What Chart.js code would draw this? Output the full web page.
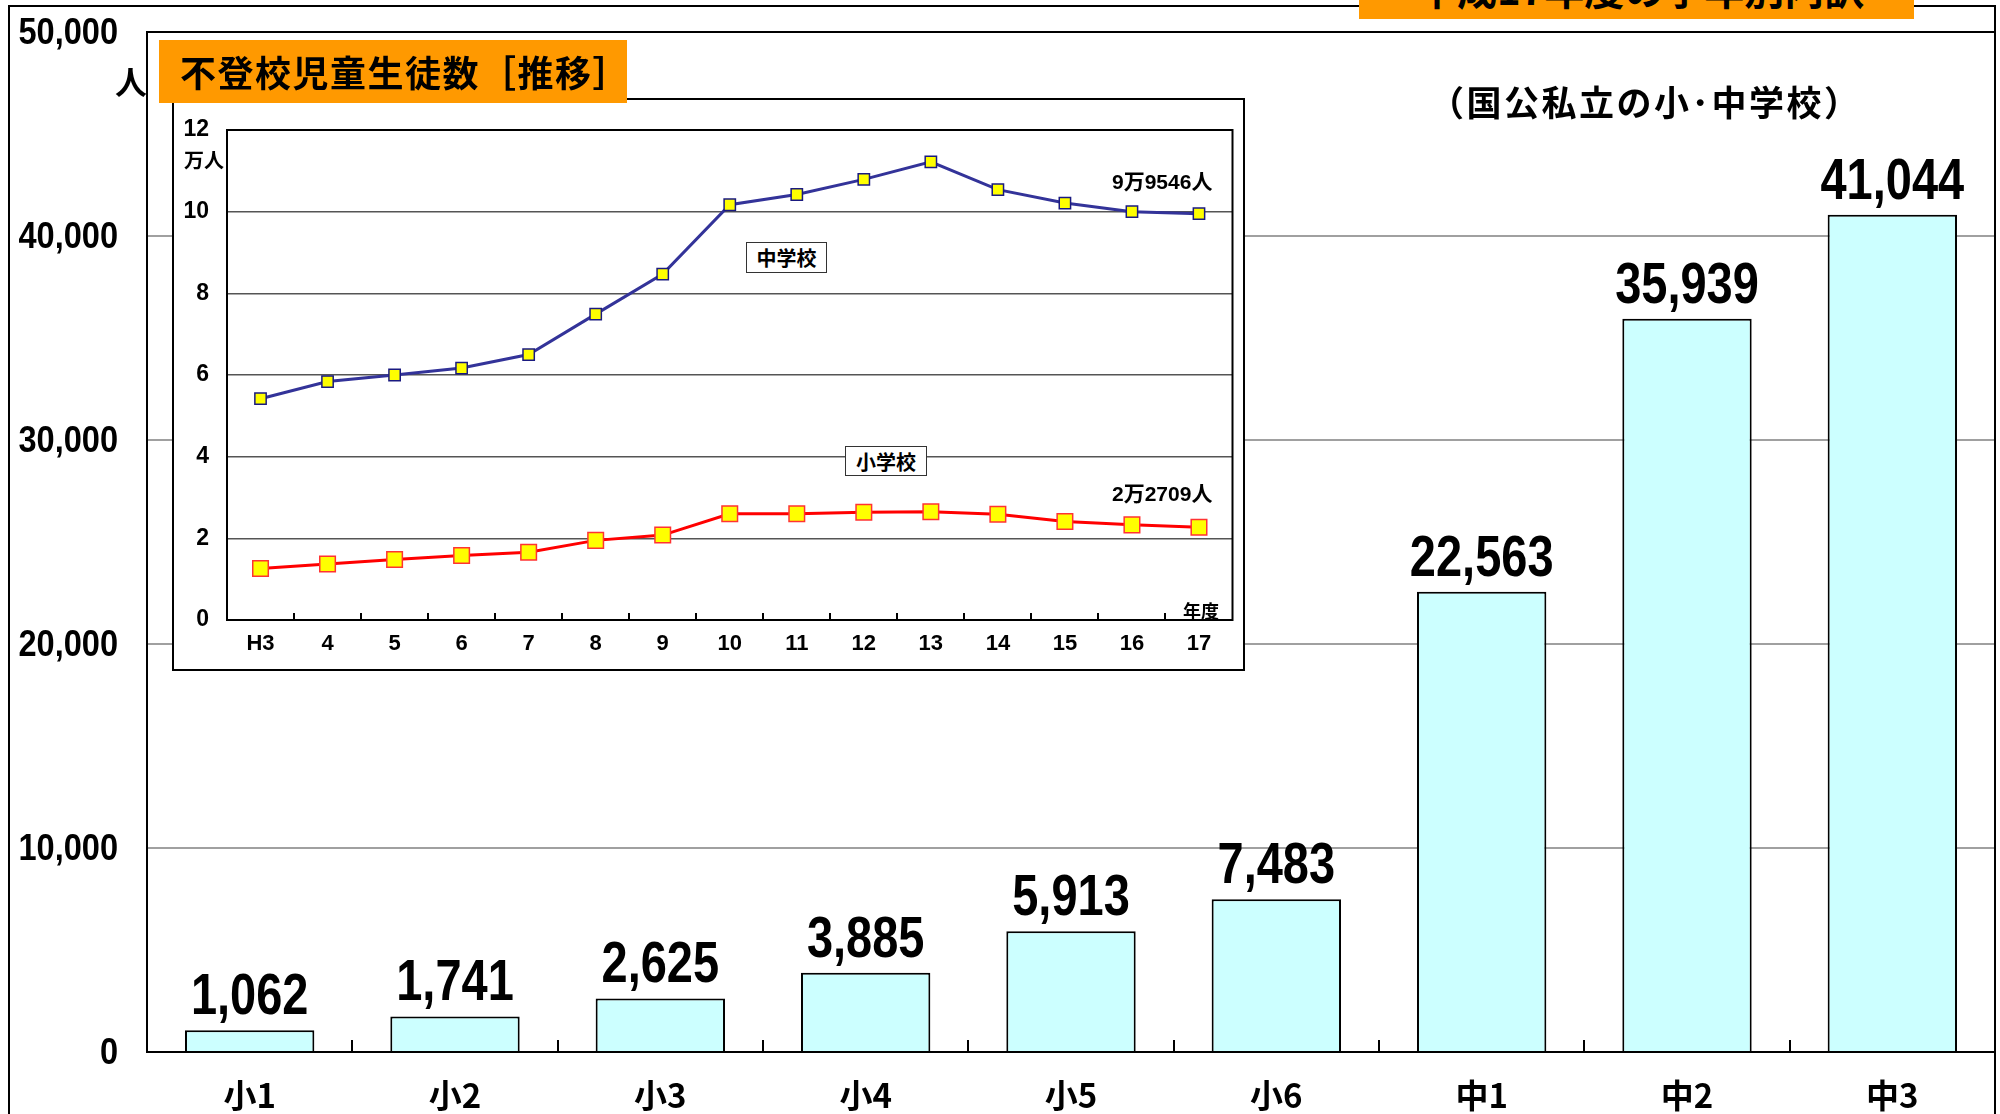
<!DOCTYPE html>
<html>
<head>
<meta charset="utf-8">
<script src="https://cdn.jsdelivr.net/npm/chart.js@4"></script>
<style>
body { margin: 0; background: #fff; width: 2000px; height: 1114px; overflow: hidden; position: relative; }
#main { position: absolute; left: 0; top: 0; }
#inset { position: absolute; left: 172px; top: 98px; background: #fff; }
.lbl { position: absolute; font-family: "Noto Sans CJK JP", sans-serif; font-weight: 700; color: #000; white-space: nowrap; }
.orange { position: absolute; background: #FF9900; }
.tag { position: absolute; background: #fff; border: 1.5px solid #333; box-sizing: border-box; display: flex; align-items: center; justify-content: center;
       font-family: "Noto Sans CJK JP", sans-serif; font-weight: 700; font-size: 20px; }
.num { font-family: "Liberation Sans", "Noto Sans CJK JP", sans-serif; font-size: 21px; line-height: 22px; }
</style>
</head>
<body>
<canvas id="main" width="2000" height="1114"></canvas>

<div class="orange" style="left:1359px; top:0; width:555px; height:19px; overflow:hidden;">
  <div class="lbl" style="left:58px; top:-32px; font-size:40px; line-height:40px;">平成17年度の学年別内訳</div>
</div>
<div class="lbl" style="left:1429px; top:81px; font-size:35px; line-height:40px; letter-spacing:2.5px;">（国公私立の小･中学校）</div>
<div class="lbl" style="left:115px; top:60px; font-size:32px; line-height:40px;">人</div>

<canvas id="inset" width="1073" height="573"></canvas>

<div class="orange" style="left:159px; top:40px; width:468px; height:63px;">
  <div class="lbl" style="left:21px; top:9px; font-size:36px; line-height:44px; letter-spacing:1.5px;">不登校児童生徒数［推移］</div>
</div>
<div class="lbl" style="left:184px; top:148px; font-size:20px; line-height:24px;">万人</div>
<div class="tag" style="left:746px; top:242px; width:81px; height:31px;">中学校</div>
<div class="tag" style="left:845px; top:446px; width:82px; height:30px;">小学校</div>
<div class="lbl num" style="left:1112px; top:171px;">9万9546人</div>
<div class="lbl num" style="left:1112px; top:483px;">2万2709人</div>
<div class="lbl" style="left:1183px; top:599px; font-size:18px; line-height:22px;">年度</div>

<script>
// 学年別 (main bars)
const grades = ["小1", "小2", "小3", "小4", "小5", "小6", "中1", "中2", "中3"];
const gradeCounts = [1062, 1741, 2625, 3885, 5913, 7483, 22563, 35939, 41044];
const mainTicks = [0, 10000, 20000, 30000, 40000, 50000];

// 推移 (inset lines), 万人
const years = ["H3", "4", "5", "6", "7", "8", "9", "10", "11", "12", "13", "14", "15", "16", "17"];
const juniorHigh = [5.42, 5.84, 6.00, 6.17, 6.50, 7.49, 8.47, 10.17, 10.42, 10.79, 11.22, 10.54, 10.21, 10.00, 9.95];
const elementary = [1.26, 1.37, 1.48, 1.58, 1.66, 1.95, 2.08, 2.60, 2.60, 2.64, 2.65, 2.59, 2.41, 2.33, 2.27];
const insetTicks = [0, 2, 4, 6, 8, 10, 12];

const SANS = '"Liberation Sans", Arial, "Noto Sans CJK JP", sans-serif';

// narrow-looking bold text: squeeze horizontally
function squeezed(ctx, text, x, y, size, sx, align, baseline) {
    ctx.save();
    ctx.translate(x, y);
    ctx.scale(sx, 1);
    ctx.font = "bold " + size + "px " + SANS;
    ctx.fillStyle = "#000";
    ctx.textAlign = align;
    ctx.textBaseline = baseline;
    ctx.fillText(text, 0, 0);
    ctx.restore();
}

// ticks pointing up into the plot, at the category boundaries
function innerTicks(chart, len) {
    const x = chart.scales.x;
    const area = chart.chartArea;
    const ctx = chart.ctx;
    ctx.save();
    ctx.strokeStyle = "#000";
    ctx.lineWidth = 2;
    for (let i = 1; i < chart.data.labels.length; i++) {
        const px = Math.round((x.getPixelForValue(i - 1) + x.getPixelForValue(i)) / 2);
        ctx.beginPath();
        ctx.moveTo(px, area.bottom - len);
        ctx.lineTo(px, area.bottom);
        ctx.stroke();
    }
    ctx.restore();
}

const mainDecor = {
    id: "mainDecor",
    afterDatasetsDraw(chart) {
        const ctx = chart.ctx;
        const a = chart.chartArea;
        ctx.save();
        ctx.strokeStyle = "#000";
        ctx.lineWidth = 2;
        ctx.strokeRect(a.left, a.top, a.right - a.left, a.bottom - a.top);
        // outer frame
        ctx.beginPath();
        ctx.moveTo(9, 1114);
        ctx.lineTo(9, 6);
        ctx.lineTo(1995, 6);
        ctx.lineTo(1995, 1114);
        ctx.stroke();
        ctx.restore();
        innerTicks(chart, 12);

        // y tick labels
        const ys = chart.scales.y;
        mainTicks.forEach(v => {
            squeezed(ctx, v.toLocaleString("en-US"), 118, ys.getPixelForValue(v) + 2, 37, 0.88, "right", "middle");
        });

        // value labels over bars
        const meta = chart.getDatasetMeta(0);
        meta.data.forEach((bar, i) => {
            squeezed(ctx, gradeCounts[i].toLocaleString("en-US"), bar.x, bar.y - 16, 58, 0.81, "center", "alphabetic");
        });
    }
};

const insetDecor = {
    id: "insetDecor",
    beforeDraw(chart) {
        const ctx = chart.ctx;
        ctx.save();
        ctx.fillStyle = "#fff";
        ctx.fillRect(0, 0, chart.width, chart.height);
        ctx.restore();
    },
    beforeDatasetsDraw(chart) {
        const ctx = chart.ctx;
        const a = chart.chartArea;
        ctx.save();
        ctx.strokeStyle = "#000";
        ctx.lineWidth = 2;
        ctx.strokeRect(a.left, a.top, a.right - a.left, a.bottom - a.top);
        ctx.strokeRect(1, 1, chart.width - 2, chart.height - 2);
        ctx.restore();
        innerTicks(chart, 7);
    }
};

new Chart(document.getElementById("main"), {
    type: "bar",
    data: {
        labels: grades,
        datasets: [{
            data: gradeCounts,
            backgroundColor: "#CCFFFF",
            borderColor: "#000",
            borderWidth: 2,
            categoryPercentage: 1,
            barPercentage: 0.63,
        }]
    },
    options: {
        responsive: false,
        animation: false,
        layout: { padding: { top: 32, right: 5, left: 0, bottom: 0 } },
        plugins: { legend: { display: false }, tooltip: { enabled: false } },
        scales: {
            x: {
                grid: { display: false },
                border: { display: false },
                ticks: { color: "#000", padding: 16, font: { family: '"Noto Sans CJK JP", sans-serif', size: 33, weight: "bold" } },
                afterFit: (s) => { s.height = 62; },
            },
            y: {
                min: 0,
                max: 50000,
                afterBuildTicks: (s) => { s.ticks = mainTicks.map(v => ({ value: v })); },
                grid: { color: "#a0a0a0", lineWidth: 2, drawTicks: false },
                border: { display: false },
                ticks: { display: false },
                afterFit: (s) => { s.width = 147; },
            }
        }
    },
    plugins: [mainDecor]
});

new Chart(document.getElementById("inset"), {
    type: "line",
    data: {
        labels: years,
        datasets: [{
            label: "小学校",
            data: elementary,
            borderColor: "#FF0000",
            borderWidth: 3,
            pointStyle: "rect",
            pointRadius: 11,
            pointBackgroundColor: "#FFFF00",
            pointBorderColor: "#FF3333",
            pointBorderWidth: 1.5,
            tension: 0,
        }, {
            label: "中学校",
            data: juniorHigh,
            borderColor: "#333399",
            borderWidth: 3,
            pointStyle: "rect",
            pointRadius: 8,
            pointBackgroundColor: "#FFFF00",
            pointBorderColor: "#1a1a80",
            pointBorderWidth: 1.5,
            tension: 0,
        }]
    },
    options: {
        responsive: false,
        animation: false,
        layout: { padding: { top: 32, right: 12, left: 0, bottom: 0 } },
        plugins: { legend: { display: false }, tooltip: { enabled: false } },
        scales: {
            x: {
                offset: true,
                grid: { display: false },
                border: { display: false },
                ticks: { color: "#000", padding: 3, font: { family: SANS, size: 22, weight: "bold" } },
                afterFit: (s) => { s.height = 51; },
            },
            y: {
                min: 0,
                max: 12,
                afterBuildTicks: (s) => { s.ticks = insetTicks.map(v => ({ value: v })); },
                grid: { color: "#555", lineWidth: 1.5, drawTicks: false },
                border: { display: false },
                ticks: { color: "#000", padding: 18, font: { family: SANS, size: 23, weight: "bold" } },
                afterFit: (s) => { s.width = 55; },
            }
        }
    },
    plugins: [insetDecor]
});
</script>
</body>
</html>
